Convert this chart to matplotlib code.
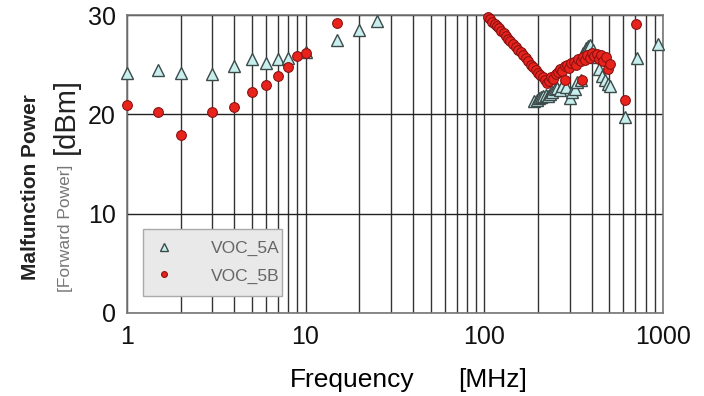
import matplotlib
matplotlib.use("Agg")
import matplotlib.pyplot as plt
from matplotlib.ticker import LogLocator, FixedLocator, NullFormatter

plt.rcParams['font.family'] = ['Liberation Sans', 'DejaVu Sans']

# ---- data ----
freq_5a = [1, 1.5, 2, 3, 4, 5, 6, 7, 8, 10, 15, 20, 25,
           190, 196, 202, 208, 214, 220, 226, 232, 240, 248, 256, 264, 272, 285,
           300, 310, 320, 330, 345, 355, 368, 380, 392, 405, 420, 440, 455, 470,
           490, 505, 612, 711, 933]
power_5a = [24.2, 24.5, 24.2, 24.1, 24.9, 25.6, 25.2, 25.6, 25.7, 26.3, 27.5, 28.5, 29.4,
            21.3, 21.4, 21.6, 21.7, 21.8, 21.9, 21.8, 22.0, 22.2, 22.5, 22.7, 22.4, 22.9, 22.8,
            21.6, 22.2, 22.6, 23.3, 23.5, 26.2, 26.7, 26.9, 27.0, 26.5, 25.8, 24.6, 23.9, 23.5,
            23.1, 22.9, 19.7, 25.7, 27.1]

freq_5b = [1, 1.5, 2, 3, 4, 5, 6, 7, 8, 9, 10, 15,
           105, 108, 111, 114, 117, 120, 124, 128, 132, 136, 140, 145, 150, 155, 160,
           165, 170, 176, 182, 188, 194, 200, 206, 212, 218, 224, 230, 236, 243, 250,
           258, 265, 273, 281, 289, 298, 307, 316, 325, 335, 345, 355, 366, 377, 388,
           400, 412, 424, 437, 450, 463, 477, 490, 505, 281, 350, 612, 705]
power_5b = [20.9, 20.2, 17.9, 20.2, 20.7, 22.2, 23.0, 23.9, 24.8, 25.9, 26.2, 29.2,
            29.8, 29.6, 29.3, 29.1, 28.9, 28.7, 28.4, 28.2, 27.9, 27.6, 27.4, 27.1, 26.8, 26.5, 26.3,
            26.0, 25.7, 25.4, 25.0, 24.8, 24.5, 24.2, 24.0, 23.8, 23.5, 23.2, 23.4, 23.8, 23.6, 24.1,
            24.3, 24.6, 24.4, 24.9, 25.0, 24.7, 25.2, 25.3, 25.0, 25.6, 25.4, 25.8, 25.5, 26.0, 25.7,
            26.2, 25.9, 26.1, 25.6, 26.0, 25.4, 25.8, 24.6, 25.1, 23.5, 23.5, 21.4, 29.1]

x_ticks = [1, 10, 100, 1000]
x_tick_labels = ['1', '10', '100', '1000']
y_ticks = [0, 10, 20, 30]
y_tick_labels = ['0', '10', '20', '30']

# ---- figure ----
fig = plt.figure(figsize=(7.04, 3.96), dpi=100)
ax = fig.add_axes([0.180, 0.210, 0.762, 0.752])
ax.set_xscale('log')
ax.set_xlim(1, 1000)
ax.set_ylim(0, 30)

# grid
ax.xaxis.set_major_locator(FixedLocator(x_ticks))
ax.xaxis.set_minor_locator(LogLocator(base=10, subs=range(2, 10)))
ax.xaxis.set_minor_formatter(NullFormatter())
ax.set_xticks(x_ticks)
ax.set_xticklabels(x_tick_labels)
ax.set_yticks(y_ticks)
ax.set_yticklabels(y_tick_labels)
ax.grid(True, which='both', axis='x', color='#333333', linewidth=1.0, zorder=1)
ax.grid(True, which='major', axis='y', color='#222222', linewidth=1.0, zorder=1)
ax.set_axisbelow(True)
ax.tick_params(axis='both', which='both', length=0, labelsize=18, colors='#111111')
ax.tick_params(axis='x', pad=9)
ax.tick_params(axis='y', pad=8)
for s in ax.spines.values():
    s.set_color('#777777')
    s.set_linewidth(1.2)

ax.plot(freq_5a, power_5a, linestyle='none', marker='^', markersize=8.5,
        markerfacecolor='#c8efee', markeredgecolor='#3c4a4a', markeredgewidth=1.0,
        label='VOC_5A', zorder=3, clip_on=False)
ax.plot(freq_5b, power_5b, linestyle='none', marker='o', markersize=7,
        markerfacecolor='#e8231c', markeredgecolor='#8c1212', markeredgewidth=0.8,
        label='VOC_5B', zorder=4, clip_on=False)

leg = ax.legend(loc='lower left', bbox_to_anchor=(0.030, 0.057, 0.26, 0.238),
                mode='expand', fontsize=12.5, markerscale=0.6, frameon=True,
                fancybox=False, labelspacing=0.7, borderpad=0.7, handlelength=1.0,
                handletextpad=2.2, borderaxespad=0)
leg.get_frame().set_facecolor('#e9e9e9')
leg.get_frame().set_edgecolor('#aaaaaa')
leg.get_frame().set_alpha(1)
for t in leg.get_texts():
    t.set_color('#666666')

# labels
fig.text(0.500, 0.040, 'Frequency', fontsize=19, ha='center', va='center')
fig.text(0.699, 0.040, '[MHz]', fontsize=19, ha='center', va='center')
fig.text(0.043, 0.528, 'Malfunction Power', fontsize=15, fontweight='bold', rotation=90,
         ha='center', va='center', color='#222222')
fig.text(0.093, 0.424, '[Forward Power]', fontsize=12.5, rotation=90,
         ha='center', va='center', color='#777777')
fig.text(0.093, 0.707, '[dBm]', fontsize=21, rotation=90,
         ha='center', va='center', color='#222222')

fig.savefig('out.png', dpi=100)
